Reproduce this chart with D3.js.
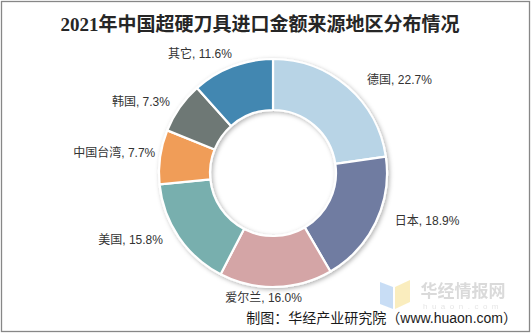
<!DOCTYPE html>
<html><head><meta charset="utf-8">
<script src="https://cdn.jsdelivr.net/npm/d3@7/dist/d3.min.js"></script>
<style>body{margin:0;background:#fff}svg{display:block}</style>
</head><body>
<svg id="c" width="532" height="334"></svg>
<script>
const title = "2021年中国超硬刀具进口金额来源地区分布情况";
const categories = ["德国", "日本", "爱尔兰", "美国", "中国台湾", "韩国", "其它"];
const shares = [22.7, 18.9, 16.0, 15.8, 7.7, 7.3, 11.6];
const colors = ["#b8d4e6", "#707ca1", "#d4a5a6", "#78afae", "#f09d59", "#6e7874", "#4287b1"];
const source = "制图：华经产业研究院（www.huaon.com）";
// label fine placement relative to the outside-end anchor
const labelNudge = [[13, 1], [10, -6], [-12.5, 1], [-7.5, -3], [5, -2.5], [-1.6, 0.3], [3, -3]];

const svg = d3.select("#c");
const W = 532, H = 334;
const cx = 273, cy = 173, R = 114, r0 = 63;

svg.append("rect").attr("x", 0).attr("y", 0).attr("width", W).attr("height", H).attr("fill", "#fff");
svg.append("rect").attr("x", 1.5).attr("y", 1.5).attr("width", 528).attr("height", 330)
  .attr("fill", "none").attr("stroke", "#878787").attr("stroke-width", 1.3);

svg.append("text").attr("x", 260).attr("y", 24).attr("text-anchor", "middle")
  .attr("dominant-baseline", "central")
  .attr("font-family", "'Liberation Serif','Noto Sans CJK SC',serif")
  .attr("font-weight", "bold").attr("font-size", 19).attr("fill", "#262626")
  .text(title);

const defs = svg.append("defs");
const f = defs.append("filter").attr("id", "sh").attr("x", "-20%").attr("y", "-20%").attr("width", "140%").attr("height", "140%");
f.append("feDropShadow").attr("dx", 1.5).attr("dy", 1.5).attr("stdDeviation", 2)
  .attr("flood-color", "#000").attr("flood-opacity", 0.3);

// watermark
const wm = svg.append("g").attr("opacity", 0.55);
wm.append("path").attr("d", "M380,282 L393,287 L393,309 L380,304 Z").attr("fill", "#9cc3ee");
wm.append("path").attr("d", "M395,287 L410,280 L410,302 L395,309 Z").attr("fill", "#f6e08a");
wm.append("text").attr("x", 463).attr("y", 289).attr("text-anchor", "middle")
  .attr("dominant-baseline", "central").attr("font-family", "'Noto Sans CJK SC',sans-serif")
  .attr("font-weight", "bold").attr("font-size", 17).attr("fill", "#bdbdbd").text("华经情报网");
wm.append("text").attr("x", 463).attr("y", 306).attr("text-anchor", "middle")
  .attr("dominant-baseline", "central").attr("font-family", "'Liberation Sans',sans-serif")
  .attr("font-size", 8).attr("letter-spacing", 4.5).attr("fill", "#d0d0d0").text("huaon.com");

const pie = d3.pie().sort(null).value(d => d);
const arcs = pie(shares);
const arc = d3.arc().innerRadius(r0).outerRadius(R);

const g = svg.append("g").attr("transform", `translate(${cx},${cy})`);
g.append("g").attr("filter", "url(#sh)")
  .selectAll("path").data(arcs).join("path")
  .attr("d", arc).attr("fill", (d, i) => colors[i])
  .attr("stroke", "#fff").attr("stroke-width", 2.2).attr("stroke-linejoin", "round");

const lr = R + 10;
g.selectAll("text.lbl").data(arcs).join("text").attr("class", "lbl")
  .each(function (d, i) {
    const a = (d.startAngle + d.endAngle) / 2;
    const dx = Math.sin(a), dy = -Math.cos(a);
    const x = lr * dx + labelNudge[i][0], y = lr * dy + labelNudge[i][1];
    d3.select(this).attr("x", x).attr("y", y)
      .attr("text-anchor", dx > 0.1 ? "start" : (dx < -0.1 ? "end" : "middle"));
  })
  .attr("dominant-baseline", "central")
  .attr("font-family", "'Liberation Sans','Noto Sans CJK SC',sans-serif")
  .attr("font-size", 12).attr("fill", "#333")
  .text((d, i) => `${categories[i]}, ${shares[i].toFixed(1)}%`);

svg.append("text").attr("x", 517).attr("y", 318).attr("text-anchor", "end")
  .attr("dominant-baseline", "central")
  .attr("font-family", "'Liberation Sans','Noto Sans CJK SC',sans-serif")
  .attr("font-size", 14).attr("fill", "#1a1a1a").text(source);
</script>
</body></html>
